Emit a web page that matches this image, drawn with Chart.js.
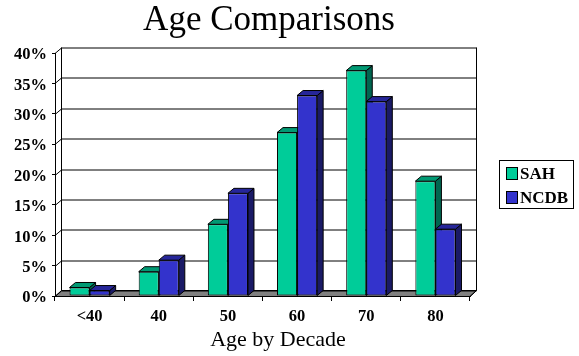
<!DOCTYPE html>
<html><head><meta charset="utf-8">
<script src="https://cdn.jsdelivr.net/npm/chart.js@4.4.0/dist/chart.umd.min.js"></script>
<style>html,body{margin:0;padding:0;background:#fff;overflow:hidden}#wrap{width:579px;height:356px;position:relative}</style>
</head><body><div id="wrap"><canvas id="c" width="579" height="356"></canvas></div>
<script>
const categories = ['<40', '40', '50', '60', '70', '80'];
const seriesNames = ['SAH', 'NCDB'];
const sahValues = [1.4, 4.0, 11.8, 26.9, 37.1, 18.9];
const ncdbValues = [0.9, 5.9, 16.9, 33.0, 32.0, 11.0];
const yTickValues = [0, 5, 10, 15, 20, 25, 30, 35, 40];
const chartTitle = 'Age Comparisons';
const xAxisTitle = 'Age by Decade';

const FRONT = ['#00CC99', '#3333CC'];
const TOP = ['#009973', '#262699'];
const SIDE = ['#006650', '#1A1A66'];
const SERIF = '"Liberation Serif", "Times New Roman", serif';
const WDX = 6.5, WDY = -5.5;   // wall depth
const BDX = 6, BDY = -5;       // bar depth

const threeD = {
  id: 'threeD',
  beforeDatasetsDraw(chart) {
    const {ctx, chartArea: a, scales: {y}} = chart;
    ctx.save();
    ctx.lineWidth = 1;
    ctx.strokeStyle = '#000';
    // floor
    ctx.fillStyle = '#808080';
    ctx.beginPath();
    ctx.moveTo(a.left, a.bottom + 0.5);
    ctx.lineTo(a.right, a.bottom + 0.5);
    ctx.lineTo(a.right + WDX, a.bottom + WDY);
    ctx.lineTo(a.left + WDX, a.bottom + WDY);
    ctx.closePath();
    ctx.fill();
    ctx.stroke();
    // gridlines on back wall with diagonal on left wall
    y.ticks.forEach(t => {
      const py = Math.round(y.getPixelForValue(t.value)) + 0.5;
      ctx.beginPath();
      ctx.moveTo(a.left, py);
      ctx.lineTo(a.left + WDX, py + WDY);
      ctx.lineTo(a.right + WDX, py + WDY);
      ctx.stroke();
    });
    // wall edges
    ctx.beginPath();
    ctx.moveTo(a.left + WDX, a.top + WDY);
    ctx.lineTo(a.left + WDX, a.bottom + WDY);
    ctx.moveTo(a.right + WDX, a.top + WDY);
    ctx.lineTo(a.right + WDX, a.bottom + WDY);
    ctx.moveTo(a.right, a.bottom + 0.5);
    ctx.lineTo(a.right + WDX, a.bottom + WDY);
    ctx.stroke();
    // bar side and top faces
    chart.data.datasets.forEach((ds, di) => {
      const meta = chart.getDatasetMeta(di);
      meta.data.forEach(el => {
        const p = el.getProps(['x', 'y', 'base', 'width'], true);
        const l = p.x - p.width / 2, r = p.x + p.width / 2, t = p.y, b = p.base;
        ctx.fillStyle = SIDE[di];
        ctx.beginPath();
        ctx.moveTo(r, t); ctx.lineTo(r + BDX, t + BDY); ctx.lineTo(r + BDX, b + BDY); ctx.lineTo(r, b);
        ctx.closePath(); ctx.fill(); ctx.stroke();
        ctx.fillStyle = TOP[di];
        ctx.beginPath();
        ctx.moveTo(l, t); ctx.lineTo(l + BDX, t + BDY); ctx.lineTo(r + BDX, t + BDY); ctx.lineTo(r, t);
        ctx.closePath(); ctx.fill(); ctx.stroke();
      });
    });
    ctx.restore();
  },
  afterDraw(chart) {
    const {ctx} = chart;
    ctx.save();
    ctx.fillStyle = '#000';
    ctx.textAlign = 'center';
    ctx.textBaseline = 'alphabetic';
    ctx.font = '35px ' + SERIF;
    ctx.fillText(chartTitle, 269, 30);
    ctx.font = '22px ' + SERIF;
    ctx.fillText(xAxisTitle, 278, 346);
    // legend
    ctx.strokeStyle = '#000';
    ctx.lineWidth = 1;
    ctx.strokeRect(499.5, 160.5, 74, 48);
    ctx.textAlign = 'left';
    ctx.textBaseline = 'middle';
    ctx.font = 'bold 17px ' + SERIF;
    chart.data.datasets.forEach((ds, i) => {
      const cy = 173.5 + i * 24;
      ctx.fillStyle = ds.backgroundColor;
      ctx.fillRect(506.5, cy - 6, 11, 12);
      ctx.strokeRect(506.5, cy - 6, 11, 12);
      ctx.fillStyle = '#000';
      ctx.fillText(ds.label, 520, cy + 1);
    });
    ctx.restore();
  }
};

const tickFont = {family: SERIF, size: 16.5, weight: 'bold'};

new Chart(document.getElementById('c'), {
  type: 'bar',
  data: {
    labels: categories,
    datasets: [
      {label: seriesNames[0], data: sahValues, backgroundColor: FRONT[0], borderColor: '#000', borderWidth: 1, borderSkipped: false},
      {label: seriesNames[1], data: ncdbValues, backgroundColor: FRONT[1], borderColor: '#000', borderWidth: 1, borderSkipped: false}
    ]
  },
  options: {
    responsive: false,
    animation: false,
    devicePixelRatio: 1,
    layout: {padding: {top: 53, right: 109, left: 0, bottom: 0}},
    datasets: {bar: {categoryPercentage: 0.58, barPercentage: 1.0}},
    plugins: {legend: {display: false}, title: {display: false}, tooltip: {enabled: false}},
    scales: {
      x: {
        grid: {display: true, drawOnChartArea: false, drawTicks: true, tickLength: 5, color: '#000', offset: true},
        border: {display: true, color: '#000'},
        ticks: {font: tickFont, color: '#000', padding: 6, maxRotation: 0},
        afterFit(s) { s.height = 60; }
      },
      y: {
        min: 0, max: 40,
        afterBuildTicks(s) { s.ticks = yTickValues.map(v => ({value: v})); },
        ticks: {font: tickFont, color: '#000', padding: 5, labelOffset: 2, callback: v => v + '%'},
        grid: {display: true, drawOnChartArea: false, tickLength: 3, color: '#000'},
        border: {display: true, color: '#000'},
        afterFit(s) { s.width = 55; }
      }
    }
  },
  plugins: [threeD]
});
</script>
</body></html>
